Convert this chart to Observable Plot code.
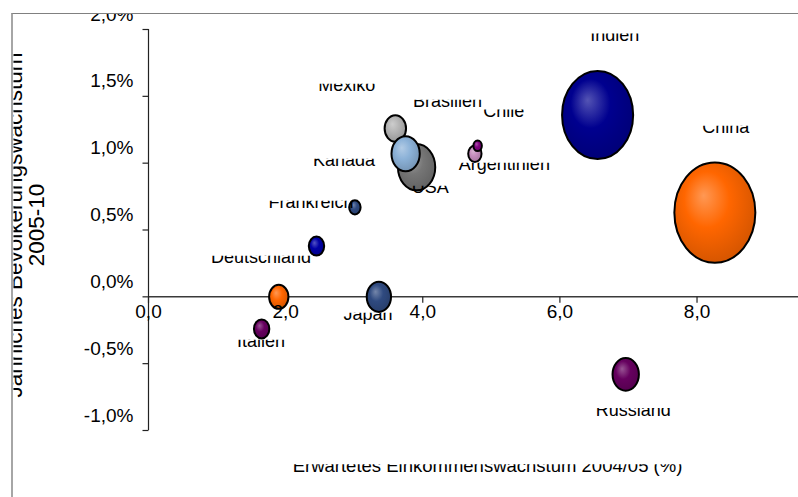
<!DOCTYPE html>
<html><head><meta charset="utf-8">
<script src="https://cdn.jsdelivr.net/npm/d3@7"></script>
<script src="https://cdn.jsdelivr.net/npm/@observablehq/plot@0.6"></script>
<style>
html,body{margin:0;padding:0;background:#fff;width:798px;height:497px;overflow:hidden;}
#wrap{position:relative;width:798px;height:497px;}
#chart svg{display:block;}
#border{position:absolute;left:11px;top:13px;width:800px;height:500px;border-left:2px solid #a6a6a6;border-top:1px solid #808080;pointer-events:none;}
</style></head><body>
<div id="wrap"><div id="chart"></div><div id="border"></div></div>
<script>
// ---- data ----
const countries = ["USA","Mexiko","Kanada","Argentinien","Chile","Indien","China","Russland","Japan","Frankreich","Deutschland","Großbritannien","Italien"];
const incomeGrowth = [3.91, 3.60, 3.75, 4.76, 4.80, 6.55, 8.26, 6.96, 3.36, 3.01, 2.45, 1.90, 1.65];
const popGrowth    = [0.97, 1.26, 1.07, 1.07, 1.13, 1.36, 0.63, -0.58, 0.00, 0.67, 0.38, 0.00, -0.24];
const bubbleSize   = [21.2, 7.0, 12.2, 2.7, 1.1, 77.0, 100, 10.6, 9.0, 2.0, 3.6, 5.7, 3.6];
const bubbleColor  = ["#767676","#b4b4b4","#8cb2d8","#c48cbc","#800080","#00008f","#ff6600","#66005f","#2f4a80","#2f4a80","#0000a6","#ff6600","#66005f"];

const labelText = ["Indien","China","Mexiko","Brasilien","Chile","Argentinien","Kanada","USA","Frankreich","Deutschland","Japan","Italien","Russland"];
const labelX    = [6.80, 8.42, 2.89, 4.36, 5.18, 5.19, 2.85, 4.11, 2.37, 1.64, 3.20, 1.64, 7.07];
const labelY    = [1.956, 1.267, 1.581, 1.461, 1.387, 0.990, 1.020, 0.818, 0.705, 0.293, -0.133, -0.335, -0.845];

const xTicks = [0, 2, 4, 6, 8];
const yTicks = [-1, -0.5, 0, 0.5, 1, 1.5, 2];
const xTitle = "Erwartetes Einkommenswachstum 2004/05 (%)";
const yTitle1 = "Jährliches Bevölkerungswachstum";
const yTitle2 = "2005-10";

// ---- helpers ----
const fmtX = d => d.toFixed(1).replace(".", ",");
const fmtY = d => d.toFixed(1).replace(".", ",") + "%";
const ellipse = {draw(ctx, size) {
  const rx = Math.sqrt(size / Math.PI), ry = rx * 1.24, k = 0.5523;
  ctx.moveTo(rx, 0);
  ctx.bezierCurveTo(rx, ry * k, rx * k, ry, 0, ry);
  ctx.bezierCurveTo(-rx * k, ry, -rx, ry * k, -rx, 0);
  ctx.bezierCurveTo(-rx, -ry * k, -rx * k, -ry, 0, -ry);
  ctx.bezierCurveTo(rx * k, -ry, rx, -ry * k, rx, 0);
  ctx.closePath();
}};
const tickDown = {draw(ctx, size) { const l = Math.sqrt(size / Math.PI); ctx.moveTo(0, 0); ctx.lineTo(0, l); }};
const tickLeft = {draw(ctx, size) { const l = Math.sqrt(size / Math.PI); ctx.moveTo(0, 0); ctx.lineTo(-l, 0); }};
const idx = countries.map((c, i) => i);
const font = "'Liberation Sans', Arial, Helvetica, sans-serif";

const chart = Plot.plot({
  width: 798, height: 497,
  marginLeft: 148, marginRight: 0, marginTop: 29, marginBottom: 67,
  x: {domain: [0, 9.48], axis: null},
  y: {domain: [-1, 2], axis: null},
  r: {type: "sqrt", domain: [0, 100], range: [0, 40.5]},
  color: {type: "identity"},
  style: {fontFamily: font, fontSize: "18px", background: "transparent", color: "#000"},
  marks: [
    Plot.ruleY([0], {stroke: "#3a3a3a", strokeWidth: 1.5}),
    Plot.ruleX([0], {stroke: "#222", strokeWidth: 1.2}),
    Plot.dot(xTicks, {x: d => d, y: () => 0, symbol: tickDown, r: 6, stroke: "#222", fill: "none", strokeWidth: 1.2}),
    Plot.dot(yTicks, {x: () => 0, y: d => d, symbol: tickLeft, r: 6, stroke: "#222", fill: "none", strokeWidth: 1.2}),
    Plot.dot(idx, {x: i => incomeGrowth[i], y: i => popGrowth[i], r: i => bubbleSize[i], symbol: ellipse,
      fill: i => `url(#bub${i})`, stroke: "#000", strokeWidth: 2, sort: null}),
    Plot.text(labelText, {x: (d, i) => labelX[i], y: (d, i) => labelY[i], text: d => d, fontSize: 18, fill: "#000", lineAnchor: "middle"}),
    Plot.text(xTicks, {x: d => d, y: () => 0, text: fmtX, dy: 15, fontSize: 19, fill: "#000", lineAnchor: "middle"}),
    Plot.text(yTicks, {x: () => 0, y: d => d, text: fmtY, textAnchor: "end", dx: -15, dy: -15, fontSize: 19, fill: "#000", lineAnchor: "middle"}),
    Plot.text([xTitle], {frameAnchor: "bottom", textAnchor: "middle", lineAnchor: "middle", dx: 14, dy: 36, fontSize: 18.5, fill: "#000"}),
    Plot.text([yTitle1], {frameAnchor: "left", rotate: -90, textAnchor: "middle", lineAnchor: "middle", dx: 14.3 - 148, dy: -5, fontSize: 22.5, fill: "#000"}),
    Plot.text([yTitle2], {frameAnchor: "left", rotate: -90, textAnchor: "middle", lineAnchor: "middle", dx: 36 - 148, dy: -5, fontSize: 22.5, fill: "#000"})
  ]
});

// gradients & clip paths
const svg = d3.select(chart);
const defs = svg.insert("defs", ":first-child");
bubbleColor.forEach((c, i) => {
  const g = defs.append("radialGradient").attr("id", `bub${i}`)
    .attr("cx", 0.45).attr("cy", 0.42).attr("r", 0.62).attr("fx", 0.36).attr("fy", 0.33);
  g.append("stop").attr("offset", "0%").attr("stop-color", d3.interpolateRgb(c, "#fff")(0.33));
  g.append("stop").attr("offset", "45%").attr("stop-color", c);
  g.append("stop").attr("offset", "100%").attr("stop-color", d3.color(c).darker(0.55).formatHex());
});
const addClip = (id, frac) => defs.append("clipPath").attr("id", id).attr("clipPathUnits", "objectBoundingBox")
  .append("rect").attr("x", -0.05).attr("y", frac).attr("width", 1.1).attr("height", 1);
addClip("cutLbl", 0.42);
addClip("cutTtl", 0.46);
addClip("cutTop", 0.5);
svg.selectAll("text").each(function() {
  const t = this.textContent;
  if (labelText.includes(t) || t === xTitle) d3.select(this).attr("clip-path", "url(#cutLbl)");
  else if (t === yTitle1) d3.select(this).attr("clip-path", "url(#cutTtl)");
  else if (t === fmtY(yTicks[yTicks.length - 1])) d3.select(this).attr("clip-path", "url(#cutTop)");
});
document.getElementById("chart").appendChild(chart);
</script>
</body></html>
